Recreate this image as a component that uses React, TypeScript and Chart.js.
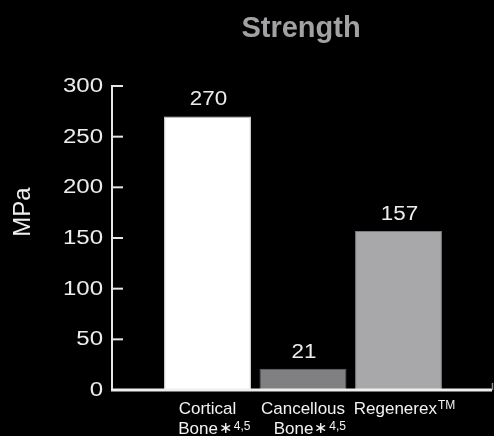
import React, { useEffect, useRef } from 'react';
import { Chart, registerables } from 'chart.js';

Chart.register(...registerables);

// ---- data ----
const categories = ['', 'Cortical', 'Cancellous', 'Regenerex', ''];
const line1Sup = ['', '', '', 'TM', ''];
const line2Text = ['', 'Bone', 'Bone', '', ''];
const line2Mark = ['', '∗', '∗', '', ''];
const line2Sup = ['', '4,5', '4,5', '', ''];
const strengthValues: (number | null)[] = [null, 270, 21, 157, null];
const barColors = ['#000000', '#ffffff', '#808083', '#a8a8ab', '#000000'];
const barBorders = ['#000000', '#e0e0e0', '#6a6a6d', '#7a7a7d', '#000000'];
const yTickValues = [0, 50, 100, 150, 200, 250, 300];
const chartTitle = 'Strength';
const yAxisTitle = 'MPa';

const FONT = '"Liberation Sans", Arial, Helvetica, sans-serif';

function wideText(ctx: CanvasRenderingContext2D, text: string, x: number, y: number, sx: number) {
  ctx.save();
  ctx.translate(x, y);
  ctx.scale(sx, 1);
  ctx.fillText(text, 0, 0);
  ctx.restore();
}

const customPlugin = {
  id: 'customDraw',
  beforeDraw(chart: any) {
    const ctx = chart.ctx;
    ctx.save();
    ctx.fillStyle = '#000000';
    ctx.fillRect(0, 0, chart.width, chart.height);
    ctx.restore();
  },
  afterDatasetsDraw(chart: any) {
    const ctx = chart.ctx as CanvasRenderingContext2D;
    const { left, right, bottom } = chart.chartArea;
    const ys = chart.scales.y;
    const xs = chart.scales.x;
    ctx.save();

    // y axis line
    ctx.strokeStyle = '#e6e6e6';
    ctx.lineWidth = 2;
    ctx.beginPath();
    ctx.moveTo(left, ys.getPixelForValue(300) - 1);
    ctx.lineTo(left, bottom + 1);
    ctx.stroke();

    // y ticks (pointing inward)
    yTickValues.forEach((v) => {
      const py = ys.getPixelForValue(v);
      ctx.beginPath();
      ctx.moveTo(left, py);
      ctx.lineTo(left + 11, py);
      ctx.stroke();
    });

    // x axis line
    ctx.lineWidth = 3;
    ctx.strokeStyle = '#eeeeee';
    ctx.beginPath();
    ctx.moveTo(left - 1, bottom);
    ctx.lineTo(right - 2, bottom);
    ctx.stroke();

    // right end tick
    ctx.lineWidth = 1.5;
    ctx.strokeStyle = '#8a8a8a';
    ctx.beginPath();
    ctx.moveTo(right - 1.5, bottom);
    ctx.lineTo(right - 1.5, bottom - 7);
    ctx.stroke();

    // y tick labels
    ctx.fillStyle = '#ececec';
    ctx.font = `20px ${FONT}`;
    ctx.textAlign = 'right';
    ctx.textBaseline = 'middle';
    yTickValues.forEach((v) => {
      const py = ys.getPixelForValue(v);
      wideText(ctx, String(v), left - 9, py + 0.5, 1.2);
    });

    // data labels
    ctx.textAlign = 'center';
    ctx.textBaseline = 'alphabetic';
    const meta = chart.getDatasetMeta(0);
    meta.data.forEach((bar: any, i: number) => {
      const v = strengthValues[i];
      if (v == null) return;
      wideText(ctx, String(v), bar.x + 1, bar.y - 11, 1.12);
    });

    // x labels
    ctx.textAlign = 'left';
    ctx.fillStyle = '#f2f2f2';
    categories.forEach((label, i) => {
      if (!label) return;
      const cx = xs.getPixelForValue(i);
      const base1 = bottom + 24;
      const base2 = bottom + 44;
      ctx.font = `17px ${FONT}`;
      const w = ctx.measureText(label).width;
      ctx.font = `12px ${FONT}`;
      const s = line1Sup[i] ? ctx.measureText(line1Sup[i]).width + 1 : 0;
      const start = cx - (w + s) / 2 + (s ? 6 : 0);
      ctx.font = `17px ${FONT}`;
      ctx.fillText(label, start, base1);
      if (line1Sup[i]) {
        ctx.font = `12px ${FONT}`;
        ctx.fillText(line1Sup[i], start + w + 1, base1 - 5);
      }
      if (line2Text[i]) {
        ctx.font = `17px ${FONT}`;
        const wb = ctx.measureText(line2Text[i]).width;
        ctx.font = `16px ${FONT}`;
        const wm = ctx.measureText(line2Mark[i]).width;
        const st = cx - 3 - (wb + wm) / 2;
        ctx.font = `17px ${FONT}`;
        ctx.fillText(line2Text[i], st, base2);
        ctx.font = `16px ${FONT}`;
        ctx.fillText(line2Mark[i], st + wb + 1, base2 - 1);
        ctx.font = `12px ${FONT}`;
        ctx.fillText(line2Sup[i], st + wb + wm + 3, base2 - 4);
      }
    });

    // title
    ctx.font = `bold 29px ${FONT}`;
    ctx.fillStyle = '#a2a2a5';
    ctx.textAlign = 'center';
    ctx.fillText(chartTitle, (left + right) / 2 - 2, 37);

    // y axis title
    ctx.font = `24px ${FONT}`;
    ctx.fillStyle = '#f0f0f0';
    ctx.translate(23, 212);
    ctx.rotate(-Math.PI / 2);
    ctx.textBaseline = 'middle';
    ctx.fillText(yAxisTitle, 0, 0);

    ctx.restore();
  },
};

export default function App() {
  const ref = useRef<HTMLCanvasElement | null>(null);

  useEffect(() => {
    document.body.style.margin = '0';
    document.body.style.background = '#000';
    if (!ref.current) return;
    const chart = new Chart(ref.current, {
      type: 'bar',
      data: {
        labels: categories,
        datasets: [
          {
            data: strengthValues as any,
            backgroundColor: barColors,
            borderColor: barBorders,
            borderWidth: 1,
            barPercentage: 0.91,
            categoryPercentage: 1,
          },
        ],
      },
      options: {
        animation: false,
        responsive: false,
        devicePixelRatio: 1,
        layout: { padding: { top: 86, right: 0, bottom: 0, left: 0 } },
        plugins: {
          legend: { display: false },
          tooltip: { enabled: false },
          title: { display: false },
        },
        scales: {
          x: {
            type: 'category',
            offset: false,
            grid: { display: false, drawTicks: false },
            border: { display: false },
            ticks: { display: false },
            afterFit: (scale: any) => {
              scale.height = 46;
            },
          },
          y: {
            min: 0,
            max: 300,
            grid: { display: false, drawTicks: false },
            border: { display: false },
            ticks: { display: false, stepSize: 50 },
            afterFit: (scale: any) => {
              scale.width = 112;
            },
          },
        },
      },
      plugins: [customPlugin],
    });
    return () => chart.destroy();
  }, []);

  return (
    <div style={{ width: 494, height: 436, background: '#000' }}>
      <canvas ref={ref} width={494} height={436} style={{ display: 'block' }} />
    </div>
  );
}
